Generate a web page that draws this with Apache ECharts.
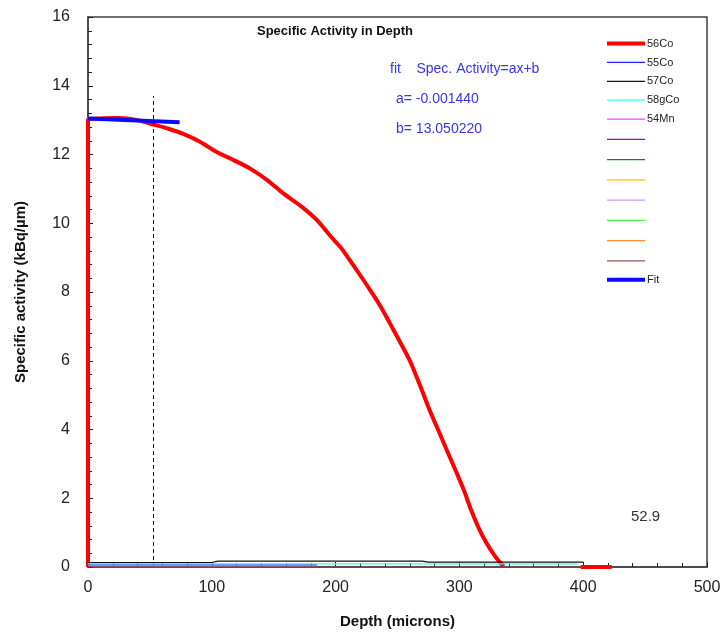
<html>
<head>
<meta charset="utf-8">
<title>Specific Activity in Depth</title>
<style>
  body { margin: 0; background: #fff; }
  #main { width: 724px; height: 637px; }
</style>
<script src="https://cdn.jsdelivr.net/npm/echarts@6/dist/echarts.min.js"></script>
</head>
<body>
<div id="main"></div>
<script type="text/javascript">
    // depth (microns) vs specific activity (kBq/um)
    let co56 = [[0,0],[0,13.0],[10,13.05],[25,13.06],[40,13.0],[50,12.9],[65,12.75],[77,12.6],[90,12.38],
        [104,12.07],[118,11.83],[131,11.59],[145,11.25],[158,10.86],[172,10.5],[185,10.09],[196,9.62],
        [204,9.3],[212,8.9],[220,8.48],[228,8.05],[236,7.6],[244,7.08],[252,6.55],[260,6.0],[268,5.3],
        [276,4.56],[284,3.89],[291,3.3],[298,2.72],[304,2.2],[309,1.7],[316,1.1],[322,0.69],[328,0.35],
        [333,0.12],[336,0.02],[337,'-'],[398,0],[423,0]];
    let co55 = [[0,0.06],[185,0.06]];
    let co57 = [[0,0.13],[100,0.13],[105,0.17],[270,0.17],[275,0.14],[400,0.14]];
    let co58g = [[0,0.09],[395,0.09]];
    let mn54 = [[0,0.03],[185,0.03]];
    let brownLine = [[0,0.0],[400,0.0]];
    let fitLine = [[0,13.05],[74,12.94]];
    let markerX = 52.9;
    let markerTop = 13.7;

    let names = ['56Co','55Co','57Co','58gCo','54Mn','s6','s7','s8','s9','s10','s11','s12','Fit'];
    let colors = ['#ff0000','#2020ff','#111111','#33ffff','#ff44ff','#8b1a8b','#1e7b1e','#ffc000',
        '#cc99ff','#44ee44','#ff8c33','#a0524d','#0a0aff'];
    let widths = [4,1.2,1.2,1.2,1.2,1.2,1.2,1.2,1.2,1.2,1.2,1.2,4];
    let dataSets = [co56, co55, co57, co58g, mn54, [], [], [], [], [], [], brownLine, fitLine];
    let blank = ['s6','s7','s8','s9','s10','s11','s12'];

    let myChart = echarts.init(document.getElementById('main'));

    let series = names.map(function (n, i) {
        return {
            name: n,
            type: 'line',
            data: dataSets[i],
            symbol: 'none',
            showSymbol: false,
            smooth: i === 0 ? 0.3 : false,
            animation: false,
            z: i === 0 ? 3 : (i === 12 ? 5 : 4),
            lineStyle: { color: colors[i], width: widths[i] },
            itemStyle: { color: colors[i] }
        };
    });
    // vertical dashed marker
    series.push({
        name: 'marker',
        type: 'line',
        data: [[markerX, 0], [markerX, markerTop]],
        symbol: 'none',
        animation: false,
        lineStyle: { color: '#000080', width: 1, type: [4, 3] }
    });

    let axisCommon = {
        axisLine: { show: true, lineStyle: { color: '#404040', width: 1.5 } },
        axisTick: { show: true, inside: true, length: 5, lineStyle: { color: '#222' } },
        minorTick: { show: true, splitNumber: 5, length: 4, lineStyle: { color: '#222' } },
        splitLine: { show: false },
        axisLabel: { color: '#222', fontSize: 16, fontFamily: 'Liberation Sans' },
        nameTextStyle: { color: '#111', fontSize: 15, fontWeight: 'bold', fontFamily: 'Liberation Sans' }
    };

    let option = {
        animation: false,
        grid: { left: 88, right: 17, top: 17, bottom: 70, show: true, borderColor: '#404040', borderWidth: 1.5 },
        title: {
            text: 'Specific Activity in Depth',
            left: 252, top: 20,
            textStyle: { fontSize: 13, fontWeight: 'bold', color: '#111', fontFamily: 'Liberation Sans' }
        },
        legend: {
            orient: 'vertical',
            left: 600, top: 33,
            itemWidth: 38, itemHeight: 14, itemGap: 7.67,
            itemStyle: { opacity: 0 },
            textStyle: { fontSize: 11, color: '#222', fontFamily: 'Liberation Sans', padding: [0, 0, 0, -3] },
            formatter: function (name) { return blank.indexOf(name) >= 0 ? '' : name; },
            selectedMode: false,
            data: names.map(function (n, i) {
                return { name: n, lineStyle: { width: widths[i] } };
            })
        },
        xAxis: Object.assign({}, axisCommon, {
            type: 'value', min: 0, max: 500, interval: 100,
            name: 'Depth (microns)', nameLocation: 'middle', nameGap: 47,
            axisLabel: Object.assign({}, axisCommon.axisLabel, { margin: 13 })
        }),
        yAxis: Object.assign({}, axisCommon, {
            type: 'value', min: 0, max: 16, interval: 2,
            name: 'Specific activity (kBq/µm)', nameLocation: 'middle', nameGap: 60,
            axisLabel: Object.assign({}, axisCommon.axisLabel, { margin: 18 })
        }),
        graphic: [
            { type: 'text', left: 390, top: 62, style: { text: 'fit    Spec. Activity=ax+b', fill: '#3535f0', fontSize: 14, fontFamily: 'Liberation Sans' } },
            { type: 'text', left: 396, top: 92, style: { text: 'a= -0.001440', fill: '#3535f0', fontSize: 14, fontFamily: 'Liberation Sans' } },
            { type: 'text', left: 396, top: 122, style: { text: 'b= 13.050220', fill: '#3535f0', fontSize: 14, fontFamily: 'Liberation Sans' } },
            { type: 'text', left: 631, top: 509, style: { text: '52.9', fill: '#333', fontSize: 15, fontFamily: 'Liberation Sans' } }
        ],
        series: series
    };

    myChart.setOption(option);
</script>
</body>
</html>
